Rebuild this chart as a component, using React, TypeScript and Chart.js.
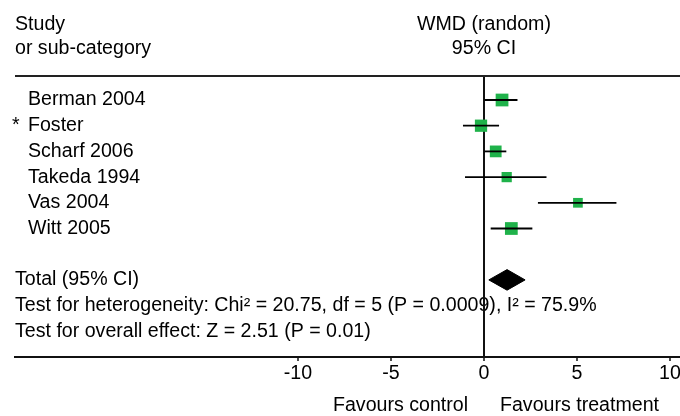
import React, { useEffect, useRef } from "react";
import { Chart, registerables } from "chart.js";

Chart.register(...registerables);

// ---- data ----
const STUDIES = ["Berman 2004", "Foster", "Scharf 2006", "Takeda 1994", "Vas 2004", "Witt 2005"];
const STUDY_FLAGS = ["", "*", "", "", "", ""];
const WMD = [0.97, -0.16, 0.63, 1.22, 5.05, 1.47];
const CI_LOW = [0.02, -1.13, 0.02, -1.02, 2.9, 0.36];
const CI_HIGH = [1.8, 0.81, 1.2, 3.36, 7.12, 2.6];
const WEIGHTS = [20.0, 18.5, 17.0, 12.9, 11.6, 20.0];
const TOTAL_WMD = 1.24;
const TOTAL_CI = [0.26, 2.21];
const X_TICKS = [-10, -5, 0, 5, 10];
const HEADER_LEFT = ["Study", "or sub-category"];
const HEADER_RIGHT = ["WMD (random)", "95% CI"];
const FOOTER_LINES = [
  "Total (95% CI)",
  "Test for heterogeneity: Chi\u00B2 = 20.75, df = 5 (P = 0.0009), I\u00B2 = 75.9%",
  "Test for overall effect: Z = 2.51 (P = 0.01)",
];
const FAVOURS = ["Favours control", "Favours treatment"];

// ---- layout / style ----
const FONT = "'Liberation Sans', Arial, sans-serif";
const FONT_SIZE = 19.6;
const X_MIN = -25.215;
const X_MAX = 10.538;
const Y_MIN = -0.934;
const Y_MAX = 10.0;
const HEADER_ROWS = [-2.94, -2];
const TOTAL_ROW = 7;
const DIAMOND_HALF = 0.4;
const LABEL_X = 28;
const FLAG_X = 12;
const FAVOURS_GAP = 16;
const FAVOURS_Y = 406;
const SQUARE_K = 2.85;
const GREEN = "#1fb24a";

const textPlugin = {
  id: "forestText",
  beforeDraw(chart: any) {
    const { ctx } = chart;
    const x = chart.scales.x;
    const y = chart.scales.y;
    const left = chart.chartArea.left;
    const zx = x.getPixelForValue(0);
    ctx.save();
    ctx.font = `${FONT_SIZE}px ${FONT}`;
    ctx.fillStyle = "#000";
    ctx.textBaseline = "middle";
    ctx.textAlign = "left";
    HEADER_LEFT.forEach((t, k) => ctx.fillText(t, left, y.getPixelForValue(HEADER_ROWS[k])));
    ctx.textAlign = "center";
    HEADER_RIGHT.forEach((t, k) => ctx.fillText(t, zx, y.getPixelForValue(HEADER_ROWS[k])));
    ctx.textAlign = "left";
    STUDIES.forEach((s, i) => {
      const py = y.getPixelForValue(i);
      if (STUDY_FLAGS[i]) ctx.fillText(STUDY_FLAGS[i], FLAG_X, py);
      ctx.fillText(s, LABEL_X, py);
    });
    FOOTER_LINES.forEach((t, k) => ctx.fillText(t, left, y.getPixelForValue(TOTAL_ROW + k)));
    ctx.textAlign = "right";
    ctx.fillText(FAVOURS[0], zx - FAVOURS_GAP, FAVOURS_Y);
    ctx.textAlign = "left";
    ctx.fillText(FAVOURS[1], zx + FAVOURS_GAP, FAVOURS_Y);
    ctx.restore();
  },
};

export default function App() {
  const ref = useRef<HTMLCanvasElement | null>(null);

  useEffect(() => {
    if (!ref.current) return;
    const squares: any = {
      type: "scatter",
      label: "studies",
      data: WMD.map((v, i) => ({ x: v, y: i })),
      pointStyle: "rect",
      pointRadius: WEIGHTS.map((w) => (SQUARE_K * Math.sqrt(w)) / Math.SQRT2),
      backgroundColor: GREEN,
      borderWidth: 0,
      order: 2,
    };
    const ciSets: any[] = STUDIES.map((s, i) => ({
      type: "line",
      label: s,
      data: [
        { x: CI_LOW[i], y: i },
        { x: CI_HIGH[i], y: i },
      ],
      borderColor: "#000",
      borderWidth: 1.8,
      pointRadius: 0,
      fill: false,
      order: 1,
    }));
    const diamond: any = {
      type: "line",
      label: "total",
      data: [
        { x: TOTAL_CI[0], y: TOTAL_ROW },
        { x: TOTAL_WMD, y: TOTAL_ROW - DIAMOND_HALF },
        { x: TOTAL_CI[1], y: TOTAL_ROW },
        { x: TOTAL_WMD, y: TOTAL_ROW + DIAMOND_HALF },
        { x: TOTAL_CI[0], y: TOTAL_ROW },
      ],
      fill: "shape",
      backgroundColor: "#000",
      borderColor: "#000",
      borderWidth: 1,
      pointRadius: 0,
      tension: 0,
      order: 1,
    };

    const chart = new Chart(ref.current, {
      type: "scatter",
      data: { datasets: [squares, ...ciSets, diamond] },
      options: {
        responsive: false,
        animation: false,
        devicePixelRatio: 1,
        layout: { autoPadding: false, padding: { left: 15, top: 76, right: 0, bottom: 0 } },
        plugins: { legend: { display: false }, tooltip: { enabled: false } },
        events: [],
        scales: {
          x: {
            type: "linear",
            position: "bottom",
            min: X_MIN,
            max: X_MAX,
            afterBuildTicks: (s: any) => {
              s.ticks = X_TICKS.map((v) => ({ value: v }));
            },
            afterFit: (s: any) => {
              s.height = 59;
              s.paddingLeft = 0;
              s.paddingRight = 0;
            },
            border: { display: true, color: "#111", width: 2 },
            grid: {
              drawOnChartArea: true,
              drawTicks: true,
              tickLength: 4,
              color: (c: any) => (c.tick && c.tick.value === 0 ? "#111" : "rgba(0,0,0,0)"),
              lineWidth: 2,
              tickColor: "#111",
              tickWidth: 1.5,
            },
            ticks: {
              autoSkip: false,
              maxRotation: 0,
              minRotation: 0,
              padding: 1,
              color: "#000",
              font: { family: FONT, size: FONT_SIZE },
              callback: (v: any) => String(v),
            },
          },
          y: {
            type: "linear",
            min: Y_MIN,
            max: Y_MAX,
            reverse: true,
            display: true,
            afterBuildTicks: (s: any) => {
              s.ticks = [{ value: Y_MIN }];
            },
            afterFit: (s: any) => {
              s.width = 0;
            },
            border: { display: false },
            grid: { drawTicks: false, color: "#222", lineWidth: 2 },
            ticks: { display: false },
          },
        },
      } as any,
      plugins: [textPlugin],
    });
    return () => chart.destroy();
  }, []);

  return (
    <div style={{ position: "absolute", left: 0, top: 0, width: 680, height: 416, background: "#fff" }}>
      <canvas ref={ref} width={680} height={416} style={{ display: "block" }} />
    </div>
  );
}
